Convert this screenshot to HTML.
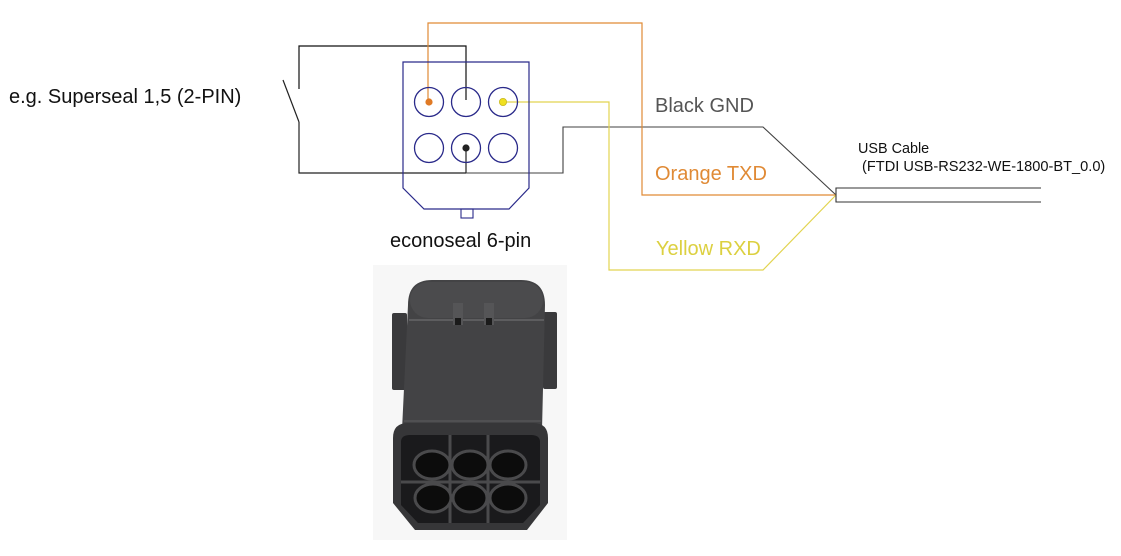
<!DOCTYPE html>
<html><head><meta charset="utf-8"><style>
html,body{margin:0;padding:0;background:#fff;}
svg{display:block;}
text{font-family:"Liberation Sans",Arial,sans-serif;}
</style></head><body>
<svg width="1121" height="556" viewBox="0 0 1121 556" xmlns="http://www.w3.org/2000/svg">
<rect width="1121" height="556" fill="#fff"/>

<!-- Switch / black wire -->
<polyline points="299,89 299,46 466,46 466,100" fill="none" stroke="#111" stroke-width="1.2"/>
<line x1="283" y1="80" x2="299" y2="122" stroke="#222" stroke-width="1.2"/>
<polyline points="299,122 299,173 466,173" fill="none" stroke="#222" stroke-width="1.2"/>
<line x1="466" y1="148" x2="466" y2="173" stroke="#222" stroke-width="1.2"/>

<!-- GND wire -->
<polyline points="466,173 563,173 563,127 763,127 836,195" fill="none" stroke="#404040" stroke-width="1.1"/>

<!-- Orange TXD wire -->
<polyline points="428,102 428,23 642,23 642,195 836,195" fill="none" stroke="#e08a35" stroke-width="1.2"/>

<!-- Yellow RXD wire -->
<polyline points="503,102 609,102 609,270 763,270 836,195" fill="none" stroke="#e2d450" stroke-width="1.2"/>

<!-- Cable -->
<polyline points="1041,188 836,188 836,202 1041,202" fill="none" stroke="#333" stroke-width="1.1"/>

<!-- Econoseal outline -->
<polygon points="403,62 529,62 529,188 509,209 424,209 403,188" fill="none" stroke="#2a2a8a" stroke-width="1.2"/>
<rect x="461" y="209" width="12" height="9" fill="none" stroke="#2a2a8a" stroke-width="1.1"/>
<g fill="none" stroke="#2a2a8a" stroke-width="1.3">
<circle cx="429" cy="102" r="14.5"/>
<circle cx="466" cy="102" r="14.5"/>
<circle cx="503" cy="102" r="14.5"/>
<circle cx="429" cy="148" r="14.5"/>
<circle cx="466" cy="148" r="14.5"/>
<circle cx="503" cy="148" r="14.5"/>
</g>
<circle cx="429" cy="102" r="3.6" fill="#e07a25"/>
<circle cx="503" cy="102" r="3.6" fill="#f0e020" stroke="#c8b820" stroke-width="0.8"/>
<circle cx="466" cy="148" r="3.6" fill="#222"/>

<!-- Labels -->
<text x="9" y="103" font-size="20" fill="#111">e.g. Superseal 1,5 (2-PIN)</text>
<text x="390" y="247" font-size="20" fill="#111">econoseal 6-pin</text>
<text x="655" y="112" font-size="20" fill="#555">Black GND</text>
<text x="655" y="180" font-size="20" fill="#e08a35">Orange TXD</text>
<text x="656" y="255" font-size="20" fill="#dcd040">Yellow RXD</text>
<text x="858" y="153" font-size="14.4" fill="#111">USB Cable</text>
<text x="862" y="171" font-size="14.6" fill="#111">(FTDI USB-RS232-WE-1800-BT_0.0)</text>

<!-- Photo -->
<rect x="373" y="265" width="194" height="275" fill="#f7f7f7"/>
<!-- side tabs -->
<rect x="392" y="313" width="15" height="77" rx="2" fill="#3a3a3c"/>
<rect x="543" y="312" width="14" height="77" rx="2" fill="#3a3a3c"/>
<!-- main body -->
<path d="M408,305 Q408,280 432,280 L521,280 Q545,280 545,305 L542,430 L402,430 Z" fill="#434345"/>
<rect x="410" y="282" width="133" height="36" rx="18" fill="#4b4b4d"/>
<line x1="409" y1="320" x2="544" y2="320" stroke="#666668" stroke-width="1.5"/>
<rect x="453" y="303" width="10" height="22" fill="#555557"/>
<rect x="484" y="303" width="10" height="22" fill="#555557"/>
<rect x="455" y="318" width="6" height="7" fill="#1a1a1a"/>
<rect x="486" y="318" width="6" height="7" fill="#1a1a1a"/>
<line x1="404" y1="421" x2="541" y2="421" stroke="#58585a" stroke-width="1.2"/>
<!-- front face -->
<path d="M393,438 Q393,423 408,423 L533,423 Q548,423 548,438 L548,503 L527,530 L415,530 L393,503 Z" fill="#363638"/>
<path d="M401,442 Q401,435 410,435 L531,435 Q540,435 540,442 L540,505 L523,523 L418,523 L401,505 Z" fill="#1a1a1c"/>
<g stroke="#4a4a4c" stroke-width="3" fill="none">
<line x1="450" y1="435" x2="450" y2="523"/>
<line x1="488" y1="435" x2="488" y2="523"/>
<line x1="401" y1="482" x2="540" y2="482"/>
</g>
<g fill="#0c0c0c" stroke="#4a4a4c" stroke-width="3">
<ellipse cx="432" cy="465" rx="18" ry="14"/>
<ellipse cx="470" cy="465" rx="18" ry="14"/>
<ellipse cx="508" cy="465" rx="18" ry="14"/>
<ellipse cx="433" cy="498" rx="18" ry="14"/>
<ellipse cx="470" cy="498" rx="17" ry="14"/>
<ellipse cx="508" cy="498" rx="18" ry="14"/>
</g>
</svg>
</body></html>
